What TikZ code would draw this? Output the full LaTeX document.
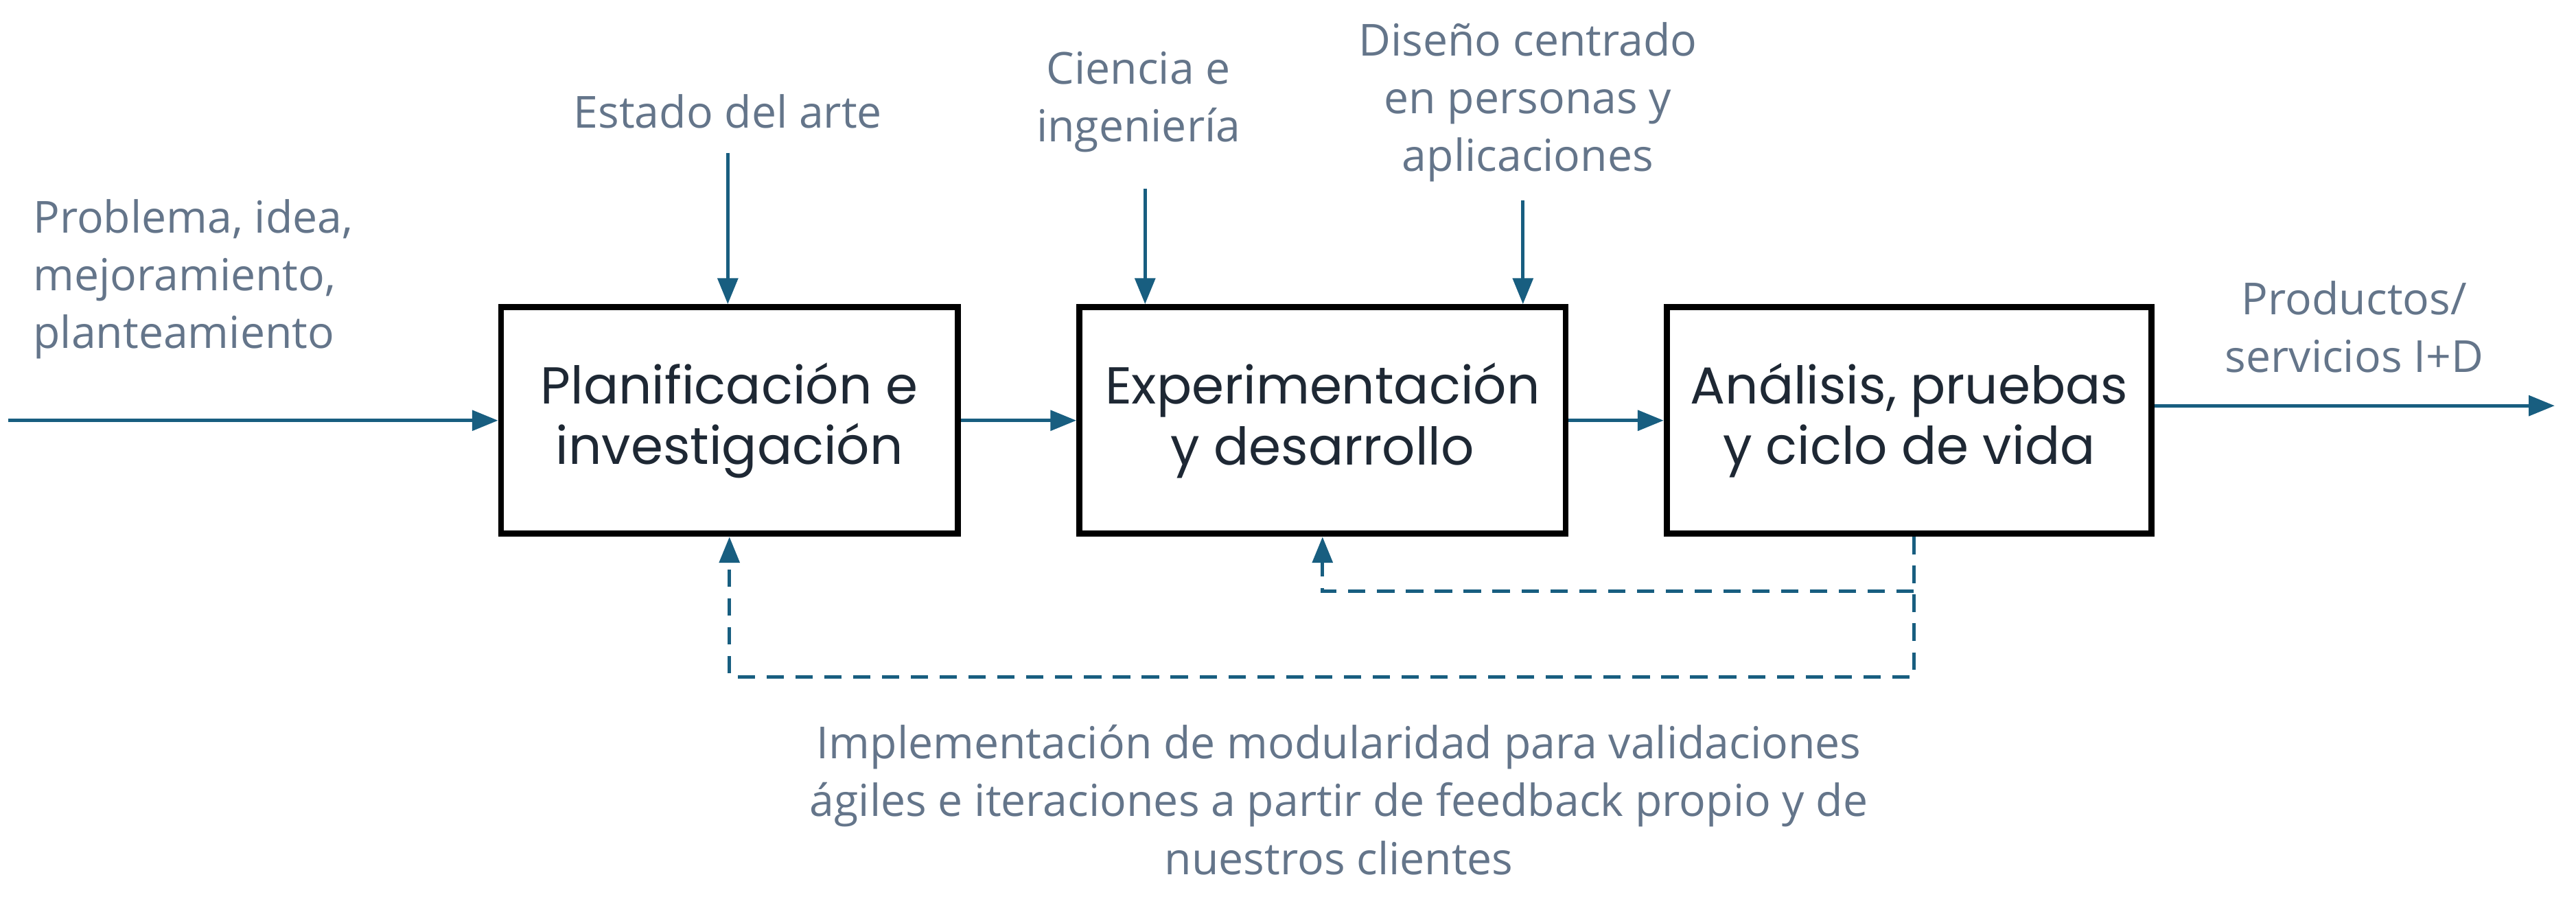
\documentclass[tikz,border=0pt]{standalone}
\usepackage{fontspec}
\setmainfont{Open Sans}
\newfontfamily\boitefont{Poppins}
\usetikzlibrary{arrows.meta}
\definecolor{bleufl}{RGB}{24,94,128}
\definecolor{grislab}{RGB}{100,117,138}
\definecolor{noirtx}{RGB}{30,40,52}
\begin{document}
\begin{tikzpicture}[x=0.02cm, y=-0.02cm]
\tikzset{boite/.style={draw, line width=2.1pt, minimum height=138*0.02cm, align=center, text=noirtx, font=\boitefont\fontsize{18}{21}\selectfont},
  etiq/.style={text=grislab, align=center, font=\fontsize{15.3}{20}\selectfont},
  fleche/.style={draw=bleufl, line width=1.2pt, -{Triangle[length=9pt, width=7pt]}},
  retour/.style={fleche, dash pattern=on 6pt off 4pt}}
\useasboundingbox (0,0) rectangle (1568,555);
\node[boite, minimum width=278*0.02cm] (P1) at (444,256) {Planificación e\\investigación};
\node[boite, minimum width=296*0.02cm] (P2) at (805,256) {Experimentación\\y desarrollo};
\node[boite, minimum width=295*0.02cm] (P3) at (1162,256) {Análisis, pruebas\\y ciclo de vida};
\node[etiq, align=left, anchor=west] (E1) at (14,170) {Problema, idea,\\mejoramiento,\\planteamiento};
\node[etiq] (E2) at (443,68) {Estado del arte};
\node[etiq] (E3) at (693,62) {Ciencia e\\ingeniería};
\node[etiq] (E4) at (930,62) {Diseño centrado\\en personas y\\aplicaciones};
\node[etiq] (E5) at (1433,199) {Productos/\\servicios I+D};
\node[etiq] (E6) at (815,487) {Implementación de modularidad para validaciones\\ágiles e iteraciones a partir de feedback propio y de\\nuestros clientes};
\coordinate (entree) at (5,256);
\coordinate (sortie) at (1555,247);
\coordinate (h1) at (443,93);
\coordinate (h2) at (697,115);
\coordinate (h3) at (927,122);
\coordinate (r1) at (1165,412);
\coordinate (r2) at (1165,360);
\draw[fleche] (entree) -- (P1.west);
\draw[fleche] (P1) -- (P2);
\draw[fleche] (P2) -- (P3);
\draw[fleche] (sortie -| P3.east) -- (sortie);
\draw[fleche] (h1) -- (h1 |- P1.north);
\draw[fleche] (h2) -- (h2 |- P2.north);
\draw[fleche] (h3) -- (h3 |- P2.north);
\draw[retour] (r1 |- P3.south) -- (r1) -| (P1.south);
\draw[retour] (r2) -| (P2.south);
\end{tikzpicture}
\end{document}
